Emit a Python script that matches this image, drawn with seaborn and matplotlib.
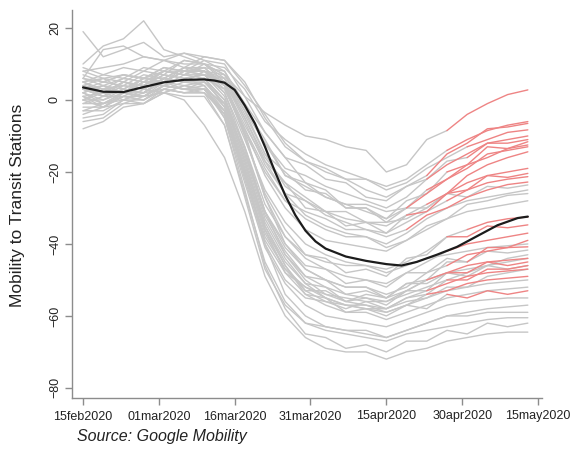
import matplotlib
matplotlib.use("Agg")
import matplotlib.pyplot as plt
import pandas as pd
import seaborn as sns

DAYS = [0, 4, 8, 12, 16, 20, 24, 28, 32, 36, 40, 44, 48, 52, 56, 60, 64, 68, 72, 76, 80, 84, 88]

TICK_DAYS = [0, 15, 30, 45, 60, 75, 90]
TICK_LABELS = ['15feb2020', '01mar2020', '16mar2020', '31mar2020',
               '15apr2020', '30apr2020', '15may2020']

# state series (transit mobility, % change from baseline)
U1 = [10, 15, 17, 22, 14, 12, 10, 7, 1, -3.5, -7, -10, -11, -13, -14, -20, -18, -11, -8.5, -4, -1, 1.5, 2.8]
U2 = [5, 7, 6, 9, 8, 11, 10, 9, 3, -6, -11, -15, -18, -20, -22, -24, -22, -18, -14, -11, -8.5, -7, -6]
U3 = [3, 5, 4, 7, 6, 9, 9, 8, -1, -9, -16, -18, -22, -23, -27, -28, -24, -21, -15, -12, -8, -7.5, -6.5]
U4 = [6, 14, 15, 12, 11, 9, 12, 11, 5, -5, -13, -17, -19, -22, -22, -25, -23, -19, -16, -13, -11, -9, -8.3]
U5 = [2, 4, 3, 6, 5, 8, 8, 7, -2, -12, -19, -21, -24, -26, -28, -30, -27, -22, -18, -15, -12, -11, -10]
U6 = [0, 3, 2, 6, 6, 9, 8, 6, -4, -15, -20, -25, -26, -30, -30, -33, -28, -26, -20, -18, -13, -13.5, -11.6]
U7 = [4, 3, 6, 5, 8, 8, 11, 8, -2, -11, -21, -24, -27, -29, -31, -33, -30, -26, -22, -19, -15, -14, -13]
U8 = [1, 2, 2, 5, 5, 8, 7, 5, -5, -17, -23, -27, -31, -31, -34, -34, -33, -30, -26, -21, -18, -16, -14.4]
U9 = [-1, 1, 1, 4, 4, 7, 7, 4, -7, -17, -26, -28, -31, -33, -34, -35, -32, -29, -26, -23, -21, -20, -19]
U10 = [3, 1, 5, 4, 8, 7, 10, 6, -5, -16, -23, -30, -31, -35, -34, -37, -32, -31, -26, -25, -21, -21.5, -20.4]
U11 = [5, 6, 5, 8, 7, 11, 10, 7, -3, -15, -24, -28, -32, -34, -36, -37, -34, -31, -28, -25, -23, -22, -21.3]
U12 = [0, -2, 2, 2, 6, 5, 8, 3, -8, -19, -28, -31, -33, -36, -36, -38, -36, -32, -30, -27, -25, -23.5, -22.8]
U13 = [19, 12, 14, 16, 12, 13, 11, 10, 1, -9, -16, -23, -25, -30, -30, -34, -30, -30, -26, -27, -24, -24.5, -23.6]
U14 = [2, 4, 2, 5, 5, 9, 8, 5, -6, -18, -26, -32, -35, -37, -38, -40, -37, -33, -30, -28, -27, -26, -25]
U15 = [4, 6, 3, 6, 5, 8, 7, 6, -3, -12, -21, -23, -27, -29, -29, -31, -30, -25, -22, -18, -16, -13.5, -12.5]
U16 = [3, 2, 5, 3, 6, 5, 8, 4, -8, -21, -30, -36, -39, -40, -41, -42, -39, -36, -33, -31, -30, -29, -28]
U17 = [8, 9, 10, 12, 11, 13, 12, 11, 4, -4, -12, -17, -20, -22, -25, -27, -24, -22, -17, -16, -12, -12, -11]
U18 = [-3, -1, 0, 2, 3, 5, 6, 3, -9, -20, -28, -33, -36, -38, -38, -41, -39, -35, -33, -29, -28, -26.5, -26]
L1 = [4, 2, 5, 4, 7, 6, 7, 2, -11, -25, -34, -40, -43, -45, -46, -47, -45, -42, -38, -36, -34, -33, -32.5]
L2 = [6, 4, 6, 5, 8, 7, 9, 4, -10, -26, -36, -43, -44, -48, -47, -49, -44, -43, -38, -38, -35, -35.5, -34.7]
L3 = [2, 0, 3, 2, 5, 3, 5, 0, -13, -29, -38, -43, -45, -46, -46, -48, -46, -44, -43, -42, -41, -40.5, -40]
L4 = [8, 6, 7, 6, 9, 8, 9, 4, -10, -27, -38, -44, -47, -49, -50, -51, -48, -45, -42, -40, -39, -38, -37]
L5 = [0, 2, 0, 3, 2, 4, 3, -1, -15, -31, -40, -46, -47, -51, -50, -52, -48, -48, -44, -45, -42, -42.5, -41.7]
L6 = [5, 2, 5, 4, 7, 6, 7, 1, -14, -31, -41, -47, -50, -52, -52, -54, -52, -48, -46, -43, -42, -41, -40.8]
L7 = [3, 1, 4, 3, 6, 5, 6, 0, -16, -33, -43, -49, -52, -54, -55, -56, -53, -50, -48, -46, -45, -44.5, -44]
L8 = [1, -1, 2, 1, 5, 4, 5, -1, -17, -34, -44, -51, -52, -56, -55, -57, -53, -53, -48, -48, -45, -46, -45]
L9 = [7, 5, 7, 6, 9, 8, 8, 2, -13, -31, -43, -50, -54, -56, -57, -58, -55, -53, -51, -49, -48, -47.5, -47]
L10 = [-2, -2, 1, 0, 4, 3, 4, -2, -18, -35, -45, -51, -55, -57, -57, -59, -57, -54, -53, -51, -50, -49.5, -49]
L11 = [4, 1, 3, 2, 6, 5, 5, -1, -17, -35, -46, -54, -55, -59, -58, -60, -57, -58, -54, -55, -53, -54, -53]
L12 = [-5, -4, 0, 0, 3, 2, 2, -4, -21, -38, -47, -52, -54, -55, -56, -56, -54, -52, -50, -48, -46, -44, -43]
L13 = [9, 7, 9, 8, 11, 10, 10, 5, -9, -27, -40, -47, -50, -52, -52, -55, -53, -50, -48, -47, -46, -45, -44]
L14 = [2, -1, 2, 1, 4, 3, 3, -3, -20, -37, -47, -53, -56, -57, -58, -59, -57, -55, -53, -52, -51, -50.5, -50]
L15 = [-3, -3, 0, -1, 3, 2, 2, -3, -19, -36, -46, -53, -53, -56, -54, -55, -51, -51, -48, -49, -46, -47, -46]
L16 = [0, 0, 2, 1, 4, 3, 3, -4, -21, -39, -48, -54, -57, -59, -59, -61, -59, -57, -55, -54, -53, -52.5, -52]
L17 = [-6, -5, -1, -1, 2, 1, 1, -7, -26, -45, -56, -62, -64, -65, -66, -67, -65, -64, -63, -62, -61, -60.5, -60.5]
L18 = [3, 1, 3, 2, 6, 5, 4, -5, -25, -46, -58, -65, -66, -69, -68, -70, -67, -67, -64, -65, -62, -63, -62]
L19 = [-8, -6, -2, -1, 2, 0, -7, -16, -31, -49, -60, -66, -69, -70, -70, -72, -70, -69, -67, -66, -65, -64.5, -64.5]
L20 = [1, -2, 1, 1, 4, 3, 2, -7, -27, -47, -57, -62, -63, -64, -65, -66, -64, -62, -60, -59, -58, -57.5, -57]
L21 = [5, 3, 4, 3, 6, 5, 6, 0, -15, -32, -42, -49, -50, -54, -53, -55, -51, -50, -45, -45, -41, -41, -39]
L22 = [-1, -1, 1, 0, 3, 2, 3, -5, -23, -41, -51, -57, -60, -61, -62, -63, -61, -59, -57, -56, -55.5, -55, -55]
L23 = [3, 4, 2, 5, 4, 6, 4, -3, -19, -36, -48, -52, -55, -57, -58, -58, -56, -55, -52, -52, -49, -48, -47]
L24 = [6, 5, 7, 6, 8, 7, 6, -2, -20, -40, -54, -60, -63, -64, -64, -66, -64, -62, -60, -60, -59, -59, -59]
L25 = [-4, -2, -1, 1, 2, 4, 3, -4, -22, -40, -50, -55, -56, -58, -56, -58, -55, -54, -50, -50, -47, -47, -46]

STATES = {'U1': U1, 'U2': U2, 'U3': U3, 'U4': U4, 'U5': U5, 'U6': U6, 'U7': U7,
          'U8': U8, 'U9': U9, 'U10': U10, 'U11': U11, 'U12': U12, 'U13': U13,
          'U14': U14, 'U15': U15, 'U16': U16, 'U17': U17, 'U18': U18,
          'L1': L1, 'L2': L2, 'L3': L3, 'L4': L4, 'L5': L5, 'L6': L6, 'L7': L7,
          'L8': L8, 'L9': L9, 'L10': L10, 'L11': L11, 'L12': L12, 'L13': L13,
          'L14': L14, 'L15': L15, 'L16': L16, 'L17': L17, 'L18': L18, 'L19': L19,
          'L20': L20, 'L21': L21, 'L22': L22, 'L23': L23, 'L24': L24, 'L25': L25}

# day each state reopened (segment drawn in red from then on)
REOPEN = {'U1': 72, 'U2': 72, 'U3': 68, 'U4': 76, 'U5': 68, 'U6': 72, 'U7': 64,
          'U8': 72, 'U9': 68, 'U10': 64, 'U11': 72, 'U12': 64, 'U15': 68, 'U17': 76,
          'L1': 76, 'L2': 72, 'L4': 72, 'L6': 72, 'L7': 68, 'L8': 72, 'L9': 68,
          'L10': 68, 'L11': 72, 'L21': 76, 'L25': 72}

# smoothed average across states
MEAN_DAYS = [0, 4, 8, 12, 16, 20, 24, 26, 28, 30, 32, 34, 36, 38, 40, 42, 44, 46, 48,
             52, 56, 60, 63, 66, 70, 74, 78, 82, 86, 88]
MEAN_VALS = [3.5, 2.3, 2.2, 3.6, 4.9, 5.6, 5.7, 5.4, 4.8, 2.8, -1.5, -6.5, -13, -20,
             -26.5, -32, -36.3, -39.3, -41.3, -43.5, -44.7, -45.6, -46, -45, -43,
             -40.8, -37.8, -34.8, -32.8, -32.4]

GRAY = '#c6c6c6'
RED = '#ee8484'
AXIS = '#8c8c8c'


def build_frames():
    gray_rows, red_rows = [], []
    for name, vals in STATES.items():
        start = REOPEN.get(name)
        for d, v in zip(DAYS, vals):
            if start is None or d <= start:
                gray_rows.append((name, d, v))
            if start is not None and d >= start:
                red_rows.append((name, d, v))
    cols = ['state', 'day', 'value']
    return pd.DataFrame(gray_rows, columns=cols), pd.DataFrame(red_rows, columns=cols)


def plot_mobility():
    sns.set_theme(style="white")
    plt.rcParams['font.family'] = ['Liberation Sans', 'DejaVu Sans']

    gray_df, red_df = build_frames()
    mean_df = pd.DataFrame({'day': MEAN_DAYS, 'value': MEAN_VALS})

    fig = plt.figure(figsize=(5.8, 4.5), dpi=100)
    ax = fig.add_axes([72 / 580, 1 - 398 / 450, 470 / 580, 388 / 450])

    sns.lineplot(data=gray_df, x='day', y='value', units='state', estimator=None,
                 color=GRAY, linewidth=1.0, ax=ax, legend=False)
    sns.lineplot(data=red_df, x='day', y='value', units='state', estimator=None,
                 color=RED, linewidth=1.0, ax=ax, legend=False)
    sns.lineplot(data=mean_df, x='day', y='value', color='#1c1c1c',
                 linewidth=1.6, ax=ax, legend=False)

    ax.set_xlim(-2.18, 90.8)
    ax.set_ylim(-82.8, 25)
    ax.set_xticks(TICK_DAYS)
    ax.set_xticklabels(TICK_LABELS)
    ax.set_yticks([-80, -60, -40, -20, 0, 20])
    ax.set_xlabel('')
    ax.set_ylabel('')

    for side in ['top', 'right']:
        ax.spines[side].set_visible(False)
    for side in ['left', 'bottom']:
        ax.spines[side].set_color(AXIS)
        ax.spines[side].set_linewidth(1.0)

    ax.tick_params(axis='both', direction='out', length=5, width=1.0, color=AXIS,
                   labelsize=9, labelcolor='#222222')
    ax.tick_params(axis='x', pad=4, bottom=True)
    ax.tick_params(axis='y', pad=3, left=True)
    plt.setp(ax.get_yticklabels(), rotation=90, va='center')

    fig.text(18 / 580, 1 - 205 / 450, 'Mobility to Transit Stations', rotation=90,
             ha='center', va='center', fontsize=12.5, color='#222222')
    fig.text(77 / 580, 1 - 437 / 450, 'Source: Google Mobility', style='italic',
             ha='left', va='center', fontsize=11.5, color='#222222')

    fig.savefig('out.png', dpi=100)


if __name__ == "__main__":
    plot_mobility()
